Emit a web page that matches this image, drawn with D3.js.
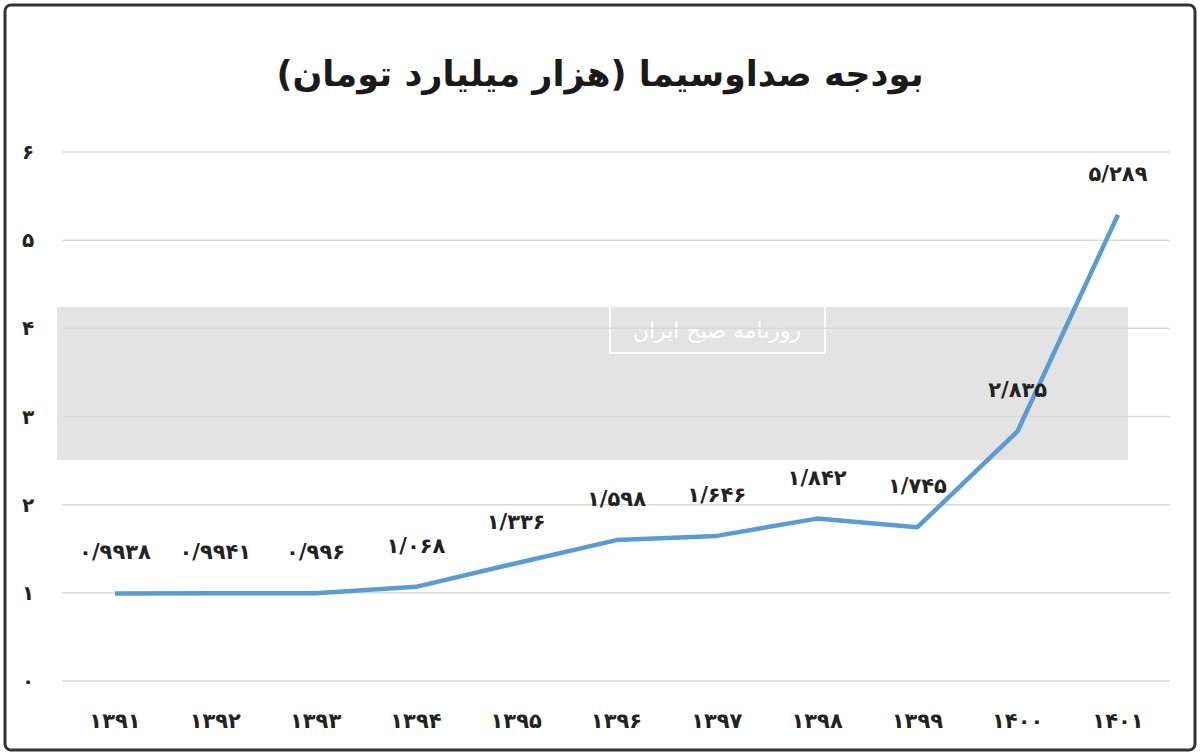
<!DOCTYPE html>
<html><head><meta charset="utf-8">
<script src="https://cdn.jsdelivr.net/npm/d3@7"></script>
<style>body{margin:0;background:#fff}</style></head>
<body><svg id="c" width="1200" height="755"></svg>
<script>
const years = ["۱۳۹۱","۱۳۹۲","۱۳۹۳","۱۳۹۴","۱۳۹۵","۱۳۹۶","۱۳۹۷","۱۳۹۸","۱۳۹۹","۱۴۰۰","۱۴۰۱"];
const values = [0.9938,0.9941,0.996,1.068,1.336,1.598,1.646,1.842,1.745,2.835,5.289];
const valueLabels = ["۰/۹۹۳۸","۰/۹۹۴۱","۰/۹۹۶","۱/۰۶۸","۱/۳۳۶","۱/۵۹۸","۱/۶۴۶","۱/۸۴۲","۱/۷۴۵","۲/۸۳۵","۵/۲۸۹"];
const yTicks = [0,1,2,3,4,5,6];
const yTickLabels = ["۰","۱","۲","۳","۴","۵","۶"];
const title = "بودجه صداوسیما (هزار میلیارد تومان)";

const svg = d3.select("#c");
const font = "'DejaVu Sans', 'Noto Sans', sans-serif";
svg.append("rect").attr("x",5).attr("y",5).attr("width",1190).attr("height",745).attr("rx",6)
  .attr("fill","#fff").attr("stroke","#333").attr("stroke-width",3);

const x = d3.scalePoint().domain(years).range([115,1118]);
const y = d3.scaleLinear().domain([0,6]).range([681,152]);

svg.append("rect").attr("x",57).attr("y",307).attr("width",1071).attr("height",153).attr("fill","#e3e3e3");
svg.append("rect").attr("x",610).attr("y",305).attr("width",215).attr("height",48).attr("fill","none").attr("stroke","#fff").attr("stroke-width",2);
svg.append("text").attr("x",717).attr("y",338).attr("text-anchor","middle").attr("fill","#fff")
  .attr("font-family",font).attr("font-size",22).text("روزنامه صبح ایران");

svg.append("g").selectAll("line").data(yTicks).join("line")
  .attr("x1",62).attr("x2",1170).attr("y1",d=>y(d)).attr("y2",d=>y(d))
  .attr("stroke","#d9d9d9").attr("stroke-width",1.5);
svg.append("g").selectAll("text").data(yTicks).join("text")
  .attr("x",28).attr("y",d=>y(d)+7).attr("text-anchor","middle").attr("font-family",font)
  .attr("font-weight","bold").attr("font-size",20).attr("fill","#222").text((d,i)=>yTickLabels[i]);
svg.append("g").selectAll("text").data(years).join("text")
  .attr("x",d=>x(d)).attr("y",728).attr("text-anchor","middle").attr("font-family",font)
  .attr("font-weight","bold").attr("font-size",21).attr("fill","#222").text(d=>d);

svg.append("path").datum(values)
  .attr("d",d3.line().x((d,i)=>x(years[i])).y(d=>y(d)))
  .attr("fill","none").attr("stroke","#5b9bd5").attr("stroke-width",4.5).attr("stroke-linejoin","round");

svg.append("g").selectAll("text").data(values).join("text")
  .attr("x",(d,i)=>x(years[i])).attr("y",d=>y(d)-34).attr("text-anchor","middle").attr("font-family",font)
  .attr("font-weight","bold").attr("font-size",21).attr("fill","#222").text((d,i)=>valueLabels[i]);

svg.append("text").attr("x",600).attr("y",86).attr("text-anchor","middle").attr("font-family",font)
  .attr("font-weight","bold").attr("font-size",35).attr("fill","#1a1a1a").attr("direction","rtl").text(title);
</script></body></html>
